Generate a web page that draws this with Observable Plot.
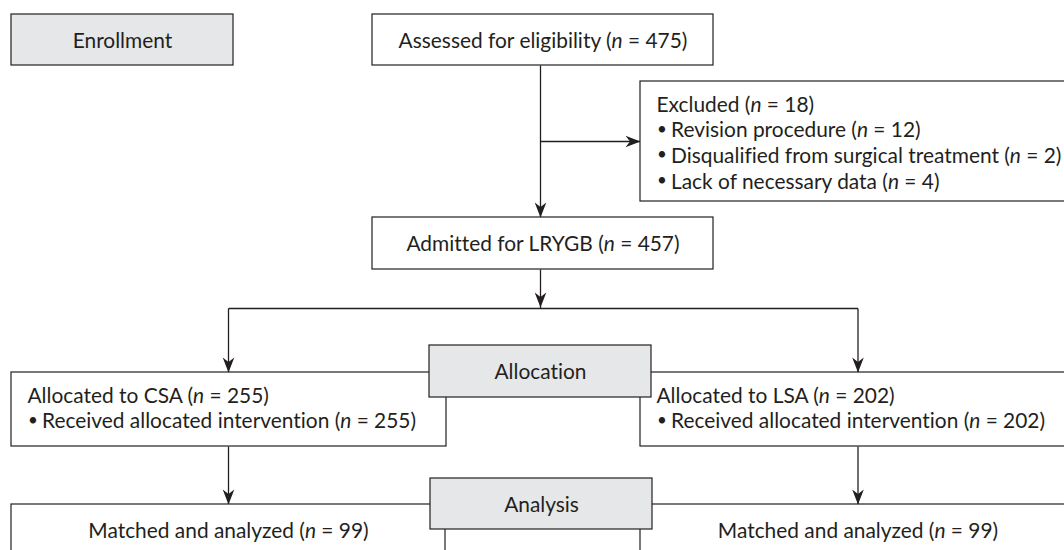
<!DOCTYPE html>
<html><head><meta charset="utf-8">
<script src="https://cdn.jsdelivr.net/npm/d3@7"></script>
<script src="https://cdn.jsdelivr.net/npm/@observablehq/plot@0.6"></script>
<style>html,body{margin:0;padding:0;background:#fff;} svg{display:block} svg text{font-variant-ligatures:none;font-feature-settings:"liga" 0;}</style>
</head><body><div id="chart"></div>
<script>
// ---- data ----
const stageLabels = ["Enrollment", "Allocation", "Analysis"];
const nodeNames = ["Assessed for eligibility", "Excluded", "Admitted for LRYGB", "Allocated to CSA", "Allocated to LSA", "Matched and analyzed", "Matched and analyzed"];
const nodeCounts = [475, 18, 457, 255, 202, 99, 99];
const exclusionReasons = ["Revision procedure", "Disqualified from surgical treatment", "Lack of necessary data"];
const exclusionCounts = [12, 2, 4];
const interventionLabel = "Received allocated intervention";
const interventionCounts = [255, 202];

// ---- layout (positions in px) ----
const layout = {
  stage: [[11, 233, 14, 65], [429, 651, 345, 397], [430, 652, 478, 529]],
  node: [[372, 713, 14, 65], [640, 1072, 81, 201], [372, 713, 217, 269], [11, 446, 372, 446], [640, 1072, 372, 446], [11, 445, 504, 562], [640, 1072, 504, 562]],
  spineX: 540, splitY: 308, excludeY: 141, leftX: 228, rightX: 857.5,
  lineGap: 25.7, textPad: 16, bulletGap: 14.5, fontSize: 20.9, bulletSize: 17
};
const ink = "#231f20";
const L = layout;
const fs = L.fontSize, dyMid = 0.32 * fs;
const lab = (name, n) => `${name} (n = ${n})`;

const stageBoxes = L.stage.map(([x1, x2, y1, y2], i) => ({x1, x2, y1, y2, label: stageLabels[i]}));
const nodeBoxes = L.node.map(([x1, x2, y1, y2], i) => ({x1, x2, y1, y2, label: lab(nodeNames[i], nodeCounts[i])}));
const [assessed, excluded, admitted, csa, lsa, matL, matR] = nodeBoxes;

// centred texts
const centred = [
  ...stageBoxes.map(b => ({x: (b.x1 + b.x2) / 2, y: b.y1 + 33 - dyMid, text: b.label})),
  {x: (assessed.x1 + assessed.x2) / 2, y: assessed.y1 + 33 - dyMid, text: assessed.label},
  {x: (admitted.x1 + admitted.x2) / 2, y: admitted.y1 + 33 - dyMid, text: admitted.label},
  {x: L.leftX, y: matL.y1 + 33 - dyMid, text: matL.label},
  {x: L.rightX, y: matR.y1 + 33 - dyMid, text: matR.label}
];
// left-aligned texts
const lefts = [];
const bullets = [];
function addBlock(box, head, items) {
  const x = box.x1 + L.textPad, y0 = box.y1 + 30 - dyMid;
  lefts.push({x, y: y0, text: head});
  items.forEach((t, i) => {
    bullets.push({x: x + 0.5, y: y0 + (i + 1) * L.lineGap - 1.2, text: "•"});
    lefts.push({x: x + L.bulletGap, y: y0 + (i + 1) * L.lineGap, text: t});
  });
}
addBlock(excluded, excluded.label, exclusionReasons.map((r, i) => lab(r, exclusionCounts[i])));
addBlock(csa, csa.label, [lab(interventionLabel, interventionCounts[0])]);
addBlock(lsa, lsa.label, [lab(interventionLabel, interventionCounts[1])]);

// connectors
const links = [
  {x1: L.spineX, y1: assessed.y2, x2: L.spineX, y2: admitted.y1},
  {x1: L.spineX, y1: L.excludeY, x2: excluded.x1, y2: L.excludeY},
  {x1: L.spineX, y1: admitted.y2, x2: L.spineX, y2: L.splitY},
  {x1: L.leftX, y1: L.splitY, x2: L.rightX, y2: L.splitY},
  {x1: L.leftX, y1: L.splitY, x2: L.leftX, y2: csa.y1},
  {x1: L.rightX, y1: L.splitY, x2: L.rightX, y2: lsa.y1},
  {x1: L.leftX, y1: csa.y2, x2: L.leftX, y2: matL.y1},
  {x1: L.rightX, y1: lsa.y2, x2: L.rightX, y2: matR.y1}
];
const downTips = [
  {x: L.spineX, y: admitted.y1}, {x: L.spineX, y: L.splitY - 1},
  {x: L.leftX, y: csa.y1}, {x: L.rightX, y: lsa.y1},
  {x: L.leftX, y: matL.y1}, {x: L.rightX, y: matR.y1}
];
const rightTips = [{x: excluded.x1, y: L.excludeY}];

const downArrow = {draw(c) { c.moveTo(0, 0); c.lineTo(-5.8, -15); c.lineTo(0, -10.5); c.lineTo(5.8, -15); c.closePath(); }};
const rightArrow = {draw(c) { c.moveTo(0, 0); c.lineTo(-15, -5.8); c.lineTo(-10.5, 0); c.lineTo(-15, 5.8); c.closePath(); }};

const chart = Plot.plot({
  width: 1064, height: 550, margin: 0,
  x: {domain: [0, 1064], range: [0, 1064], axis: null},
  y: {domain: [0, 550], range: [0, 550], axis: null},
  style: {fontFamily: "Lato, 'Open Sans', sans-serif", fontSize: fs + "px", color: ink, background: "#fff", overflow: "hidden"},
  marks: [
    Plot.link(links, {x1: "x1", y1: "y1", x2: "x2", y2: "y2", stroke: ink, strokeWidth: 1.3}),
    Plot.rect(nodeBoxes, {x1: "x1", x2: "x2", y1: "y1", y2: "y2", fill: "#fff", stroke: ink, strokeWidth: 1.2}),
    Plot.rect(stageBoxes, {x1: "x1", x2: "x2", y1: "y1", y2: "y2", fill: "#e6e7e8", stroke: ink, strokeWidth: 1.2}),
    Plot.dot(downTips, {x: "x", y: "y", symbol: downArrow, fill: ink, stroke: "none"}),
    Plot.dot(rightTips, {x: "x", y: "y", symbol: rightArrow, fill: ink, stroke: "none"}),
    Plot.text(centred, {x: "x", y: "y", text: "text", textAnchor: "middle", lineAnchor: "middle", fill: ink, fontSize: fs}),
    Plot.text(lefts, {x: "x", y: "y", text: "text", textAnchor: "start", lineAnchor: "middle", fill: ink, fontSize: fs}),
    Plot.text(bullets, {x: "x", y: "y", text: "text", textAnchor: "start", lineAnchor: "middle", fill: ink, fontSize: L.bulletSize})
  ]
});

// italicise the statistical "n"
chart.querySelectorAll("text, tspan").forEach(el => {
  if (el.children.length) return;
  const s = el.textContent, i = s.indexOf("(n =");
  if (i < 0) return;
  el.textContent = "";
  el.append(document.createTextNode(s.slice(0, i + 1)));
  const it = document.createElementNS("http://www.w3.org/2000/svg", "tspan");
  it.setAttribute("font-style", "italic");
  it.textContent = "n";
  el.append(it);
  el.append(document.createTextNode(s.slice(i + 2)));
});
document.getElementById("chart").append(chart);
</script></body></html>
